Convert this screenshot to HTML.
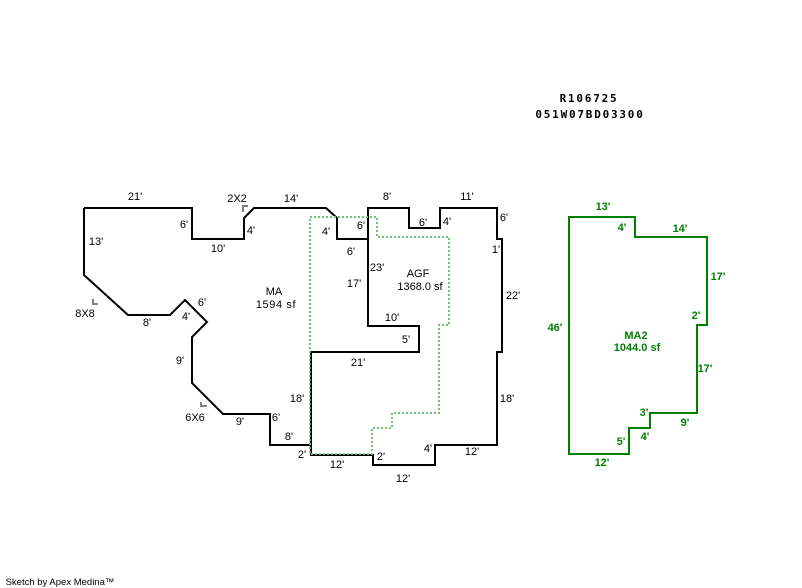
<!DOCTYPE html>
<html><head><meta charset="utf-8"><style>
html,body{margin:0;padding:0;background:#fff}
svg{display:block}
text{font-family:"Liberation Sans",Arial,sans-serif;font-size:11px;fill:#000;text-anchor:middle}
.g text{fill:#008000;font-weight:bold}
.t{font-family:"DejaVu Sans Mono",monospace;font-weight:bold;font-size:11px;letter-spacing:1.78px}
</style></head><body>
<svg width="802" height="588" viewBox="0 0 802 588" xmlns="http://www.w3.org/2000/svg">
<rect width="802" height="588" fill="#fff"/>
<g fill="none" stroke="#000" stroke-width="2">
<path d="M84 208H192V239H244V218L254 208H326L337 218V239H368M368 239V208H409V228H440V208H497V239H502V352H497V445H435V465H373V455H311V352H419V326H368V239M84 208V275L128 315H170L185 300L207 322L192 337V383L223 414H270V445H311"/>
</g>
<path d="M310 217H377V237H449V325H439V413H392V428H372V454H310Z" fill="none" stroke="#6fc06f" stroke-width="2" stroke-dasharray="2 2" shape-rendering="crispEdges"/>
<path d="M569 217H635V237H707V325H697V413H650V428H629V454H569Z" fill="none" stroke="#008000" stroke-width="2"/>
<g fill="none" stroke="#808080" stroke-width="2">
<path d="M243 212V206H248"/><path d="M93 299V304H98"/><path d="M201 402V406H207"/>
</g>
<g>
<text x="135" y="200">21'</text><text x="184" y="228">6'</text><text x="218" y="252">10'</text><text x="251" y="234">4'</text>
<text x="237" y="202">2X2</text><text x="291" y="202">14'</text><text x="96" y="245">13'</text><text x="85" y="317">8X8</text>
<text x="147" y="326">8'</text><text x="186" y="320">4'</text><text x="202" y="306">6'</text><text x="180" y="364">9'</text>
<text x="195" y="421">6X6</text><text x="240" y="425">9'</text><text x="276" y="421">6'</text><text x="289" y="440">8'</text>
<text x="302" y="458">2'</text><text x="297" y="402">18'</text><text x="358" y="366">21'</text><text x="337" y="468">12'</text>
<text x="381" y="460">2'</text><text x="403" y="482">12'</text><text x="428" y="452">4'</text><text x="472" y="455">12'</text>
<text x="507" y="402">18'</text><text x="513" y="299">22'</text><text x="496" y="253">1'</text><text x="504" y="221">6'</text>
<text x="467" y="200">11'</text><text x="447" y="225">4'</text><text x="423" y="226">6'</text><text x="387" y="200">8'</text>
<text x="361" y="229">6'</text><text x="326" y="235">4'</text><text x="351" y="255">6'</text><text x="377" y="271">23'</text>
<text x="354" y="287">17'</text><text x="392" y="321">10'</text><text x="406" y="343">5'</text>
<text x="274" y="295">MA</text><text x="276" y="308" style="letter-spacing:.6px">1594 sf</text>
<text x="418" y="277">AGF</text><text x="420" y="290">1368.0 sf</text>
</g>
<g class="g">
<text x="603" y="210">13'</text><text x="622" y="231">4'</text><text x="680" y="232">14'</text><text x="718" y="280">17'</text>
<text x="696" y="319">2'</text><text x="705" y="372">17'</text><text x="685" y="426">9'</text><text x="645" y="440">4'</text>
<text x="644" y="416">3'</text><text x="621" y="445">5'</text><text x="602" y="466">12'</text><text x="555" y="331">46'</text>
<text x="636" y="339">MA2</text><text x="637" y="351">1044.0 sf</text>
</g>
<text class="t" x="589" y="102">R106725</text>
<text class="t" x="590" y="118">051W07BD03300</text>
<text x="60" y="585" style="font-size:9.5px">Sketch by Apex Medina™</text>
</svg>
</body></html>
